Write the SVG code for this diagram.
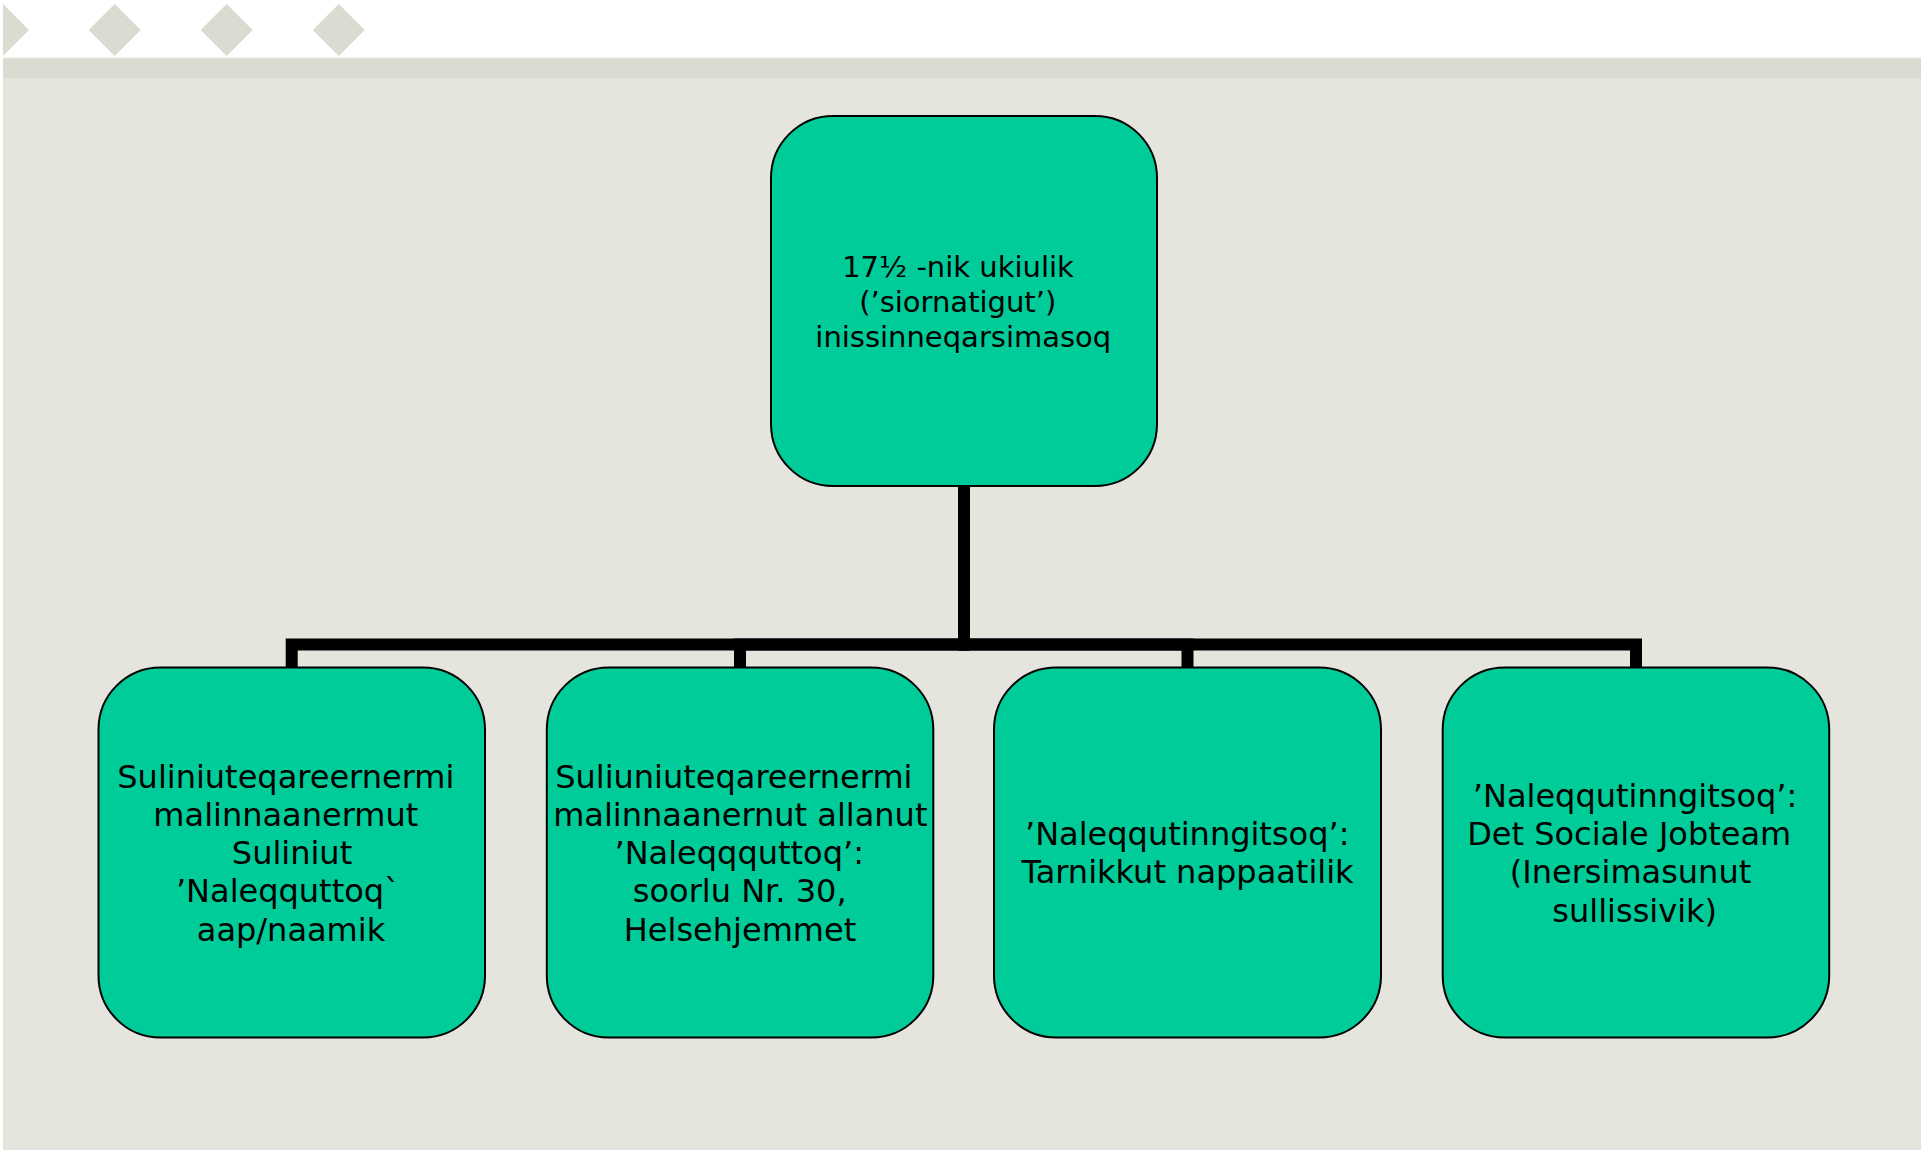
<svg xmlns="http://www.w3.org/2000/svg" width="1921" height="1151" viewBox="0 0 1921 1151">
<style>
.node{fill:#00CC99;stroke:#000;stroke-width:2}
.t{font-family:"DejaVu Sans",Verdana,sans-serif;fill:#000;text-anchor:middle}
.t29{font-size:29px}
.t32{font-size:32px}
.conn{fill:none;stroke:#000;stroke-width:12;stroke-linejoin:miter;stroke-linecap:butt}
.deco{fill:#DBDBD1}
</style>
<rect x="0" y="0" width="1921" height="1151" fill="#FFFFFF"/>
<rect x="3" y="58" width="1918" height="1092" fill="#E5E5DE"/>
<rect x="3" y="58" width="1918" height="20" fill="#DBDBD1"/>
<rect x="3" y="57" width="1918" height="1.5" fill="#F2F2EC"/>
<g id="decoration">
<polygon class="deco" points="3,4 29,30 3,56"/>
<polygon class="deco" points="114.7,4 140.7,30 114.7,56 88.7,30"/>
<polygon class="deco" points="226.7,4 252.7,30 226.7,56 200.7,30"/>
<polygon class="deco" points="338.8,4 364.8,30 338.8,56 312.8,30"/>
</g>
<g id="connectors">
<path class="conn" d="M964,486 V644.5 H291.7 V667"/>
<path class="conn" d="M964,486 V644.5 H740 V667"/>
<path class="conn" d="M964,486 V644.5 H1187.5 V667"/>
<path class="conn" d="M964,486 V644.5 H1636 V667"/>
</g>
<g id="node-top">
<rect class="node" x="771" y="116" width="386" height="370" rx="62" ry="62"/>
<text class="t t29"><tspan x="958" y="277">17½ -nik ukiulik</tspan><tspan x="957.7" y="311.7">(’siornatigut’)</tspan><tspan x="963.3" y="346.7">inissinneqarsimasoq</tspan></text>
</g>
<g id="node-1">
<rect class="node" x="98.5" y="667.5" width="386.5" height="370" rx="62" ry="62"/>
<text class="t t32"><tspan x="285.8" y="787.7">Suliniuteqareernermi</tspan><tspan x="285.8" y="825.7">malinnaanermut</tspan><tspan x="292" y="864">Suliniut</tspan><tspan x="288" y="902.3">’Naleqquttoq`</tspan><tspan x="291" y="940.7">aap/naamik</tspan></text>
</g>
<g id="node-2">
<rect class="node" x="546.8" y="667.5" width="386.5" height="370" rx="62" ry="62"/>
<text class="t t32"><tspan x="733.8" y="787.7">Suliuniuteqareernermi</tspan><tspan x="740.3" y="825.7">malinnaanernut allanut</tspan><tspan x="739.2" y="864">’Naleqqquttoq’:</tspan><tspan x="739.7" y="902.3">soorlu Nr. 30,</tspan><tspan x="740" y="940.7">Helsehjemmet</tspan></text>
</g>
<g id="node-3">
<rect class="node" x="994" y="667.5" width="387" height="370" rx="62" ry="62"/>
<text class="t t32"><tspan x="1187.2" y="845">’Naleqqutinngitsoq’:</tspan><tspan x="1187.5" y="883.3">Tarnikkut nappaatilik</tspan></text>
</g>
<g id="node-4">
<rect class="node" x="1442.7" y="667.5" width="386.5" height="370" rx="62" ry="62"/>
<text class="t t32"><tspan x="1635" y="806.7">’Naleqqutinngitsoq’:</tspan><tspan x="1629.2" y="845">Det Sociale Jobteam</tspan><tspan x="1630.5" y="883.3">(Inersimasunut</tspan><tspan x="1634.7" y="921.7">sullissivik)</tspan></text>
</g>
</svg>
